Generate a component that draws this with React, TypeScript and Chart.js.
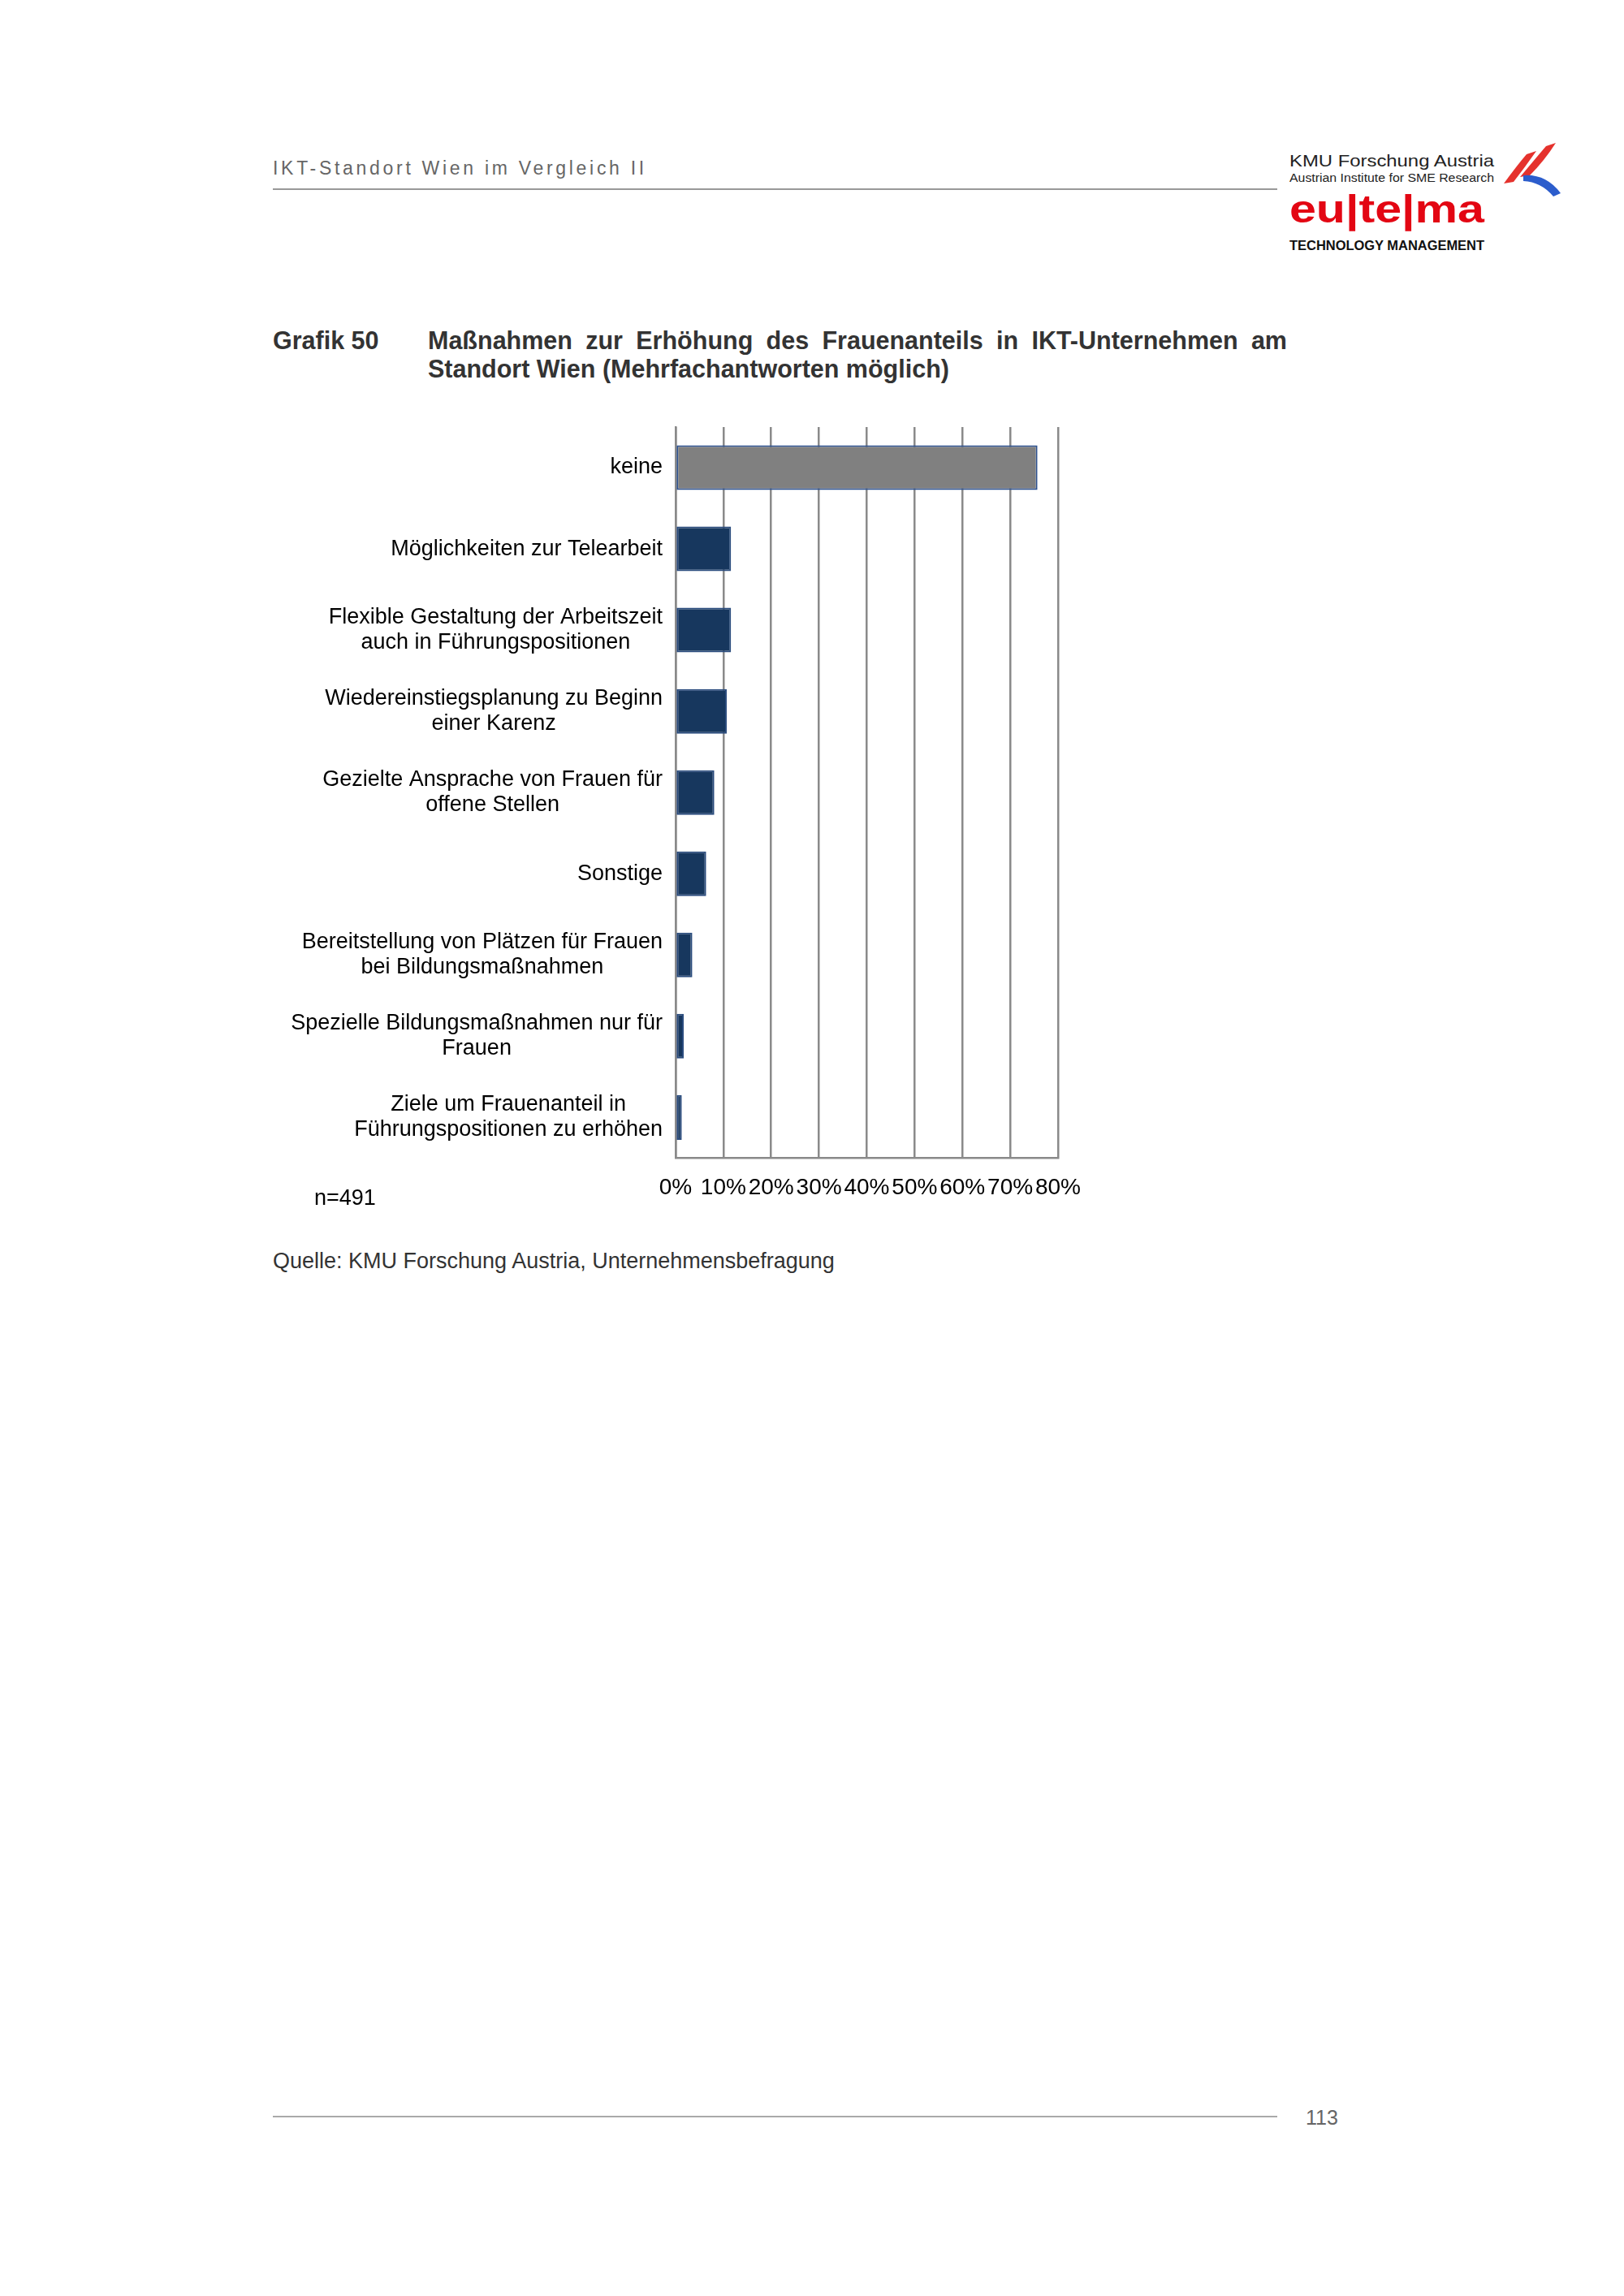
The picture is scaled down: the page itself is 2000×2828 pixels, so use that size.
import { useEffect, useRef } from "react"
import { Chart, registerables } from "chart.js"

Chart.register(...registerables)

// Kategorien (mehrzeilig wie im Original)
const categories: string[][] = [
  ["keine"],
  ["Möglichkeiten zur Telearbeit"],
  ["Flexible Gestaltung der Arbeitszeit", "auch in Führungspositionen"],
  ["Wiedereinstiegsplanung zu Beginn", "einer Karenz"],
  ["Gezielte Ansprache von Frauen für", "offene Stellen"],
  ["Sonstige"],
  ["Bereitstellung von Plätzen für Frauen", "bei Bildungsmaßnahmen"],
  ["Spezielle Bildungsmaßnahmen nur für", "Frauen"],
  ["Ziele um Frauenanteil in", "Führungspositionen zu erhöhen"],
]

// Anteile in %
const shares = [75.7, 11.6, 11.6, 10.7, 8.1, 6.4, 3.5, 1.7, 1.3]

const xTicks = [0, 10, 20, 30, 40, 50, 60, 70, 80]

const FONT = "'Liberation Sans', Arial, sans-serif"

// draws the y labels: block right-aligned, lines centered within block
const yLabelPlugin = {
  id: "yLabels",
  afterDraw(chart: Chart) {
    const ctx = chart.ctx
    const yScale = chart.scales.y
    const right = chart.chartArea.left - 16
    const lineHeight = 31
    ctx.save()
    ctx.font = `27px ${FONT}`
    ctx.fillStyle = "#000"
    ctx.textAlign = "center"
    ctx.textBaseline = "middle"
    categories.forEach((lines, i) => {
      const y = yScale.getPixelForTick(i)
      const widest = Math.max(...lines.map((l) => ctx.measureText(l).width))
      const cx = right - widest / 2
      const y0 = y - ((lines.length - 1) * lineHeight) / 2
      lines.forEach((l, j) => ctx.fillText(l, cx, y0 + j * lineHeight))
    })
    ctx.restore()
  },
}

function BarChart() {
  const chartRef = useRef<HTMLCanvasElement>(null)
  const chartInstance = useRef<Chart | null>(null)

  useEffect(() => {
    if (!chartRef.current) return
    const ctx = chartRef.current.getContext("2d")
    if (!ctx) return

    chartInstance.current = new Chart(ctx, {
      type: "bar",
      data: {
        labels: categories.map((c) => c.join(" ")),
        datasets: [
          {
            data: shares,
            backgroundColor: shares.map((_, i) => (i === 0 ? "#808080" : "#17375E")),
            borderColor: shares.map((_, i) => (i === 0 ? "#2F528F" : "#2B4C7E")),
            borderWidth: 2,
            borderSkipped: false,
            barPercentage: 0.55,
            categoryPercentage: 1,
          },
        ],
      },
      options: {
        indexAxis: "y",
        animation: false,
        responsive: false,
        devicePixelRatio: 1,
        layout: { padding: { top: 26, right: 40, bottom: 0, left: 0 } },
        plugins: {
          legend: { display: false },
          tooltip: { enabled: false },
        },
        scales: {
          x: {
            min: 0,
            max: 80,
            afterBuildTicks: (scale: any) => {
              scale.ticks = xTicks.map((v) => ({ value: v }))
            },
            ticks: {
              autoSkip: false,
              maxRotation: 0,
              padding: 20,
              color: "#000",
              font: { family: FONT, size: 28 },
              callback: (v: any) => `${v}%`,
            },
            grid: {
              color: "#8a8a8a",
              lineWidth: 2.5,
              drawTicks: false,
            },
            border: { display: true, color: "#8a8a8a", width: 2.5 },
          },
          y: {
            afterFit: (scale: any) => {
              scale.width = 492
            },
            ticks: { display: false },
            grid: { display: false, drawTicks: false },
            border: { display: true, color: "#8a8a8a", width: 2.5 },
          },
        },
      },
      plugins: [yLabelPlugin],
    })

    return () => {
      if (chartInstance.current) {
        chartInstance.current.destroy()
      }
    }
  }, [])

  return <canvas ref={chartRef} width={1011} height={1000} style={{ width: 1011, height: 1000 }} />
}

export default function App() {
  const abs = (s: React.CSSProperties): React.CSSProperties => ({ position: "absolute", ...s })
  return (
    <div
      style={{
        position: "absolute",
        left: 0,
        top: 0,
        width: 2000,
        height: 2828,
        background: "#fff",
        fontFamily: FONT,
        overflow: "hidden",
      }}
    >
      {/* Kopfzeile */}
      <div style={abs({ left: 336, top: 194, fontSize: 23, letterSpacing: 3.7, color: "#666", whiteSpace: "nowrap" })}>
        IKT-Standort Wien im Vergleich II
      </div>
      <div style={abs({ left: 336, top: 232, width: 1237, height: 2, background: "#999" })} />

      {/* Logo */}
      <svg style={abs({ left: 1580, top: 160 })} width={380} height={170}>
        <text x={8} y={45} fontSize={21} fill="#222" textLength={252} lengthAdjust="spacingAndGlyphs" fontFamily={FONT}>
          KMU Forschung Austria
        </text>
        <text x={8} y={64} fontSize={14} fill="#222" textLength={252} lengthAdjust="spacingAndGlyphs" fontFamily={FONT}>
          Austrian Institute for SME Research
        </text>
        <text x={8} y={114} fontSize={48} fontWeight="bold" fill="#E30613" textLength={240} lengthAdjust="spacingAndGlyphs" fontFamily={FONT}>
          eu|te|ma
        </text>
        <text x={8} y={148} fontSize={16} fontWeight="bold" fill="#111" textLength={240} lengthAdjust="spacingAndGlyphs" fontFamily={FONT}>
          TECHNOLOGY MANAGEMENT
        </text>
        <path d="M272 66 Q288 44 300 30 L312 26 Q298 46 284 64 Z" fill="#E5322D" />
        <path d="M292 58 Q312 34 324 20 L336 16 Q322 38 304 56 Z" fill="#E5322D" />
        <path d="M296 56 Q324 54 342 78 L333 82 Q318 64 296 63 Z" fill="#2C5DCC" />
      </svg>

      {/* Titel */}
      <div style={abs({ left: 336, top: 402, fontSize: 30.5, fontWeight: "bold", color: "#333", whiteSpace: "nowrap" })}>Grafik 50</div>
      <div
        style={abs({
          left: 527,
          top: 402,
          width: 1058,
          fontSize: 30.5,
          fontWeight: "bold",
          color: "#333",
          textAlign: "justify",
          textAlignLast: "justify",
          whiteSpace: "nowrap",
        })}
      >
        Maßnahmen zur Erhöhung des Frauenanteils in IKT-Unternehmen am
      </div>
      <div style={abs({ left: 527, top: 437, fontSize: 30.5, fontWeight: "bold", color: "#333", whiteSpace: "nowrap" })}>
        Standort Wien (Mehrfachantworten möglich)
      </div>

      {/* Diagramm */}
      <div style={abs({ left: 340, top: 500 })}>
        <BarChart />
      </div>

      <div style={abs({ left: 387, top: 1460, fontSize: 27, color: "#000" })}>n=491</div>

      <div style={abs({ left: 336, top: 1538, fontSize: 27, color: "#333", whiteSpace: "nowrap" })}>
        Quelle: KMU Forschung Austria, Unternehmensbefragung
      </div>

      {/* Fußzeile */}
      <div style={abs({ left: 336, top: 2606, width: 1237, height: 2, background: "#aaa" })} />
      <div style={abs({ left: 1608, top: 2594, fontSize: 25, color: "#666" })}>113</div>
    </div>
  )
}
